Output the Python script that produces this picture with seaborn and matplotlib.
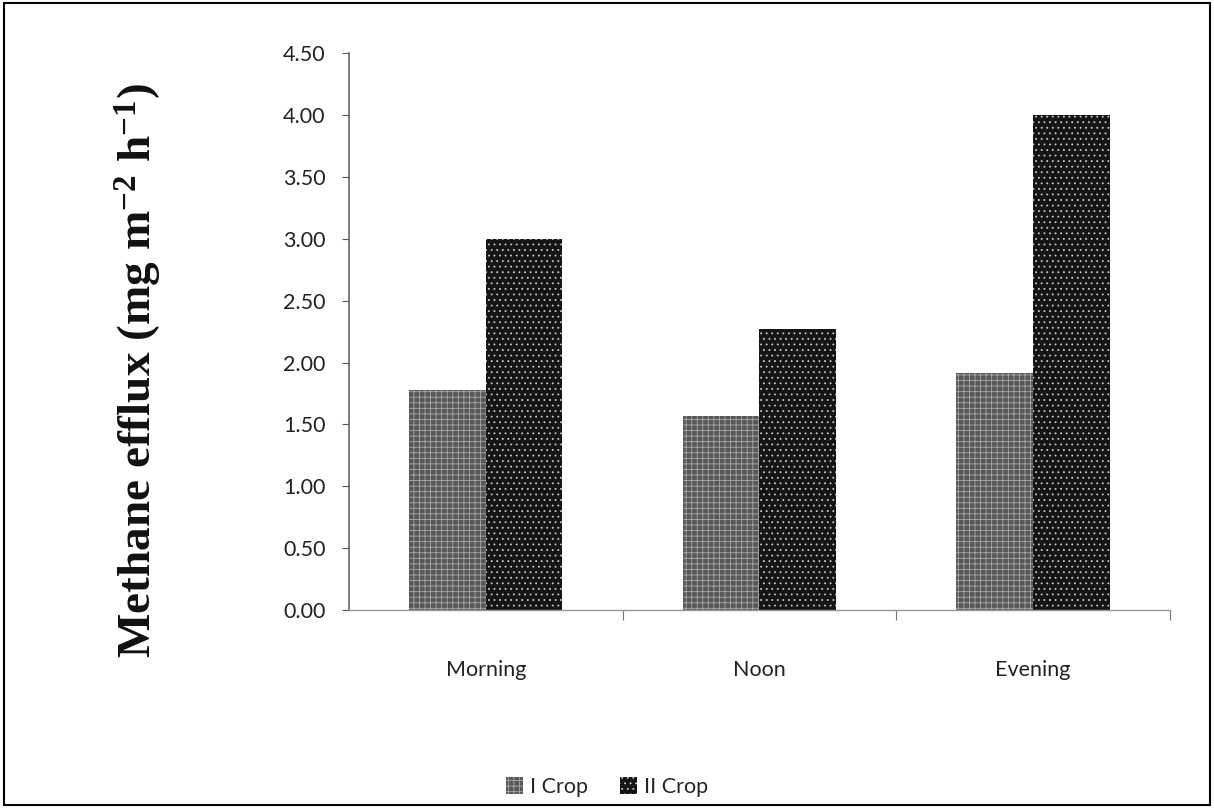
import matplotlib
matplotlib.use("Agg")
import matplotlib.pyplot as plt
import seaborn as sns
import pandas as pd
from matplotlib.patches import Rectangle
from matplotlib.ticker import FormatStrFormatter, FixedLocator

categories = ["Morning", "Noon", "Evening"]
series_names = ["I Crop", "II Crop"]
crop1 = [1.78, 1.57, 1.92]
crop2 = [3.00, 2.27, 4.00]
yticks = [0.0, 0.5, 1.0, 1.5, 2.0, 2.5, 3.0, 3.5, 4.0, 4.5]

df = pd.DataFrame({
    "time": categories * 2,
    "crop": [series_names[0]] * 3 + [series_names[1]] * 3,
    "flux": crop1 + crop2,
})

sns.set_theme(style="white")
plt.rcParams["font.family"] = ["Lato", "DejaVu Sans"]
plt.rcParams["mathtext.fontset"] = "custom"
plt.rcParams["mathtext.rm"] = "Liberation Serif:bold"
plt.rcParams["mathtext.bf"] = "Liberation Serif:bold"
plt.rcParams["mathtext.it"] = "Liberation Serif:bold"
plt.rcParams["mathtext.default"] = "bf"
plt.rcParams["hatch.linewidth"] = 0.6

fig = plt.figure(figsize=(12.14, 8.08), dpi=100)
ax = fig.add_axes([0.2875, 0.245, 0.676, 0.689])

colors = ["#585858", "#151515"]
sns.barplot(data=df, x="time", y="flux", hue="crop", order=categories,
            hue_order=series_names, palette=colors, width=0.56,
            saturation=1, ax=ax, legend=False)

hatches = ["+++", "..."]
hatch_cols = ["#a8a8a8", "#c8c8c8"]
for cont, h, hc in zip(ax.containers, hatches, hatch_cols):
    for p in cont:
        p.set_hatch(h)
        p.set_edgecolor(hc)
        p.set_linewidth(0)

ax.set_xlim(-0.5, 2.5)
ax.set_ylim(0, 4.5)
ax.set_yticks(yticks)
ax.yaxis.set_major_formatter(FormatStrFormatter("%.2f"))
ax.tick_params(axis="y", which="major", length=5, width=0.8, color="#555555",
               labelsize=15.5, pad=12, left=True, direction="out")
ax.tick_params(axis="x", which="major", length=0, labelsize=15.5, pad=36)
ax.xaxis.set_minor_locator(FixedLocator([0.5, 1.5, 2.5]))
ax.tick_params(axis="x", which="minor", length=7, width=0.8, color="#777777",
               bottom=True, direction="out")
for lab in ax.get_yticklabels() + ax.get_xticklabels():
    lab.set_color("#222222")

for s in ["top", "right"]:
    ax.spines[s].set_visible(False)
ax.spines["left"].set_color("#666666")
ax.spines["left"].set_linewidth(1.2)
ax.spines["bottom"].set_color("#999999")
ax.spines["bottom"].set_linewidth(1.0)

ax.set_xlabel("")
ax.set_ylabel("Methane efflux (mg m$^{-2}$ h$^{-1}$)", fontsize=34,
              fontweight="bold", family=["Liberation Serif", "DejaVu Serif"],
              color="#111111")
ax.yaxis.set_label_coords(-0.225, 0.43)

handles = [Rectangle((0, 0), 1, 1, facecolor=colors[i], hatch=hatches[i],
                     edgecolor=hatch_cols[i], linewidth=0) for i in range(2)]
fig.legend(handles, series_names, loc="center", bbox_to_anchor=(0.5, 0.026),
           ncol=2, frameon=False, fontsize=15.5, handlelength=0.8,
           handleheight=0.8, handletextpad=0.3, columnspacing=1.5)

fig.patches.append(Rectangle((0.003, 0.004), 0.994, 0.992, transform=fig.transFigure,
                             fill=False, edgecolor="black", linewidth=1.5))

fig.savefig("out.png", dpi=100)
